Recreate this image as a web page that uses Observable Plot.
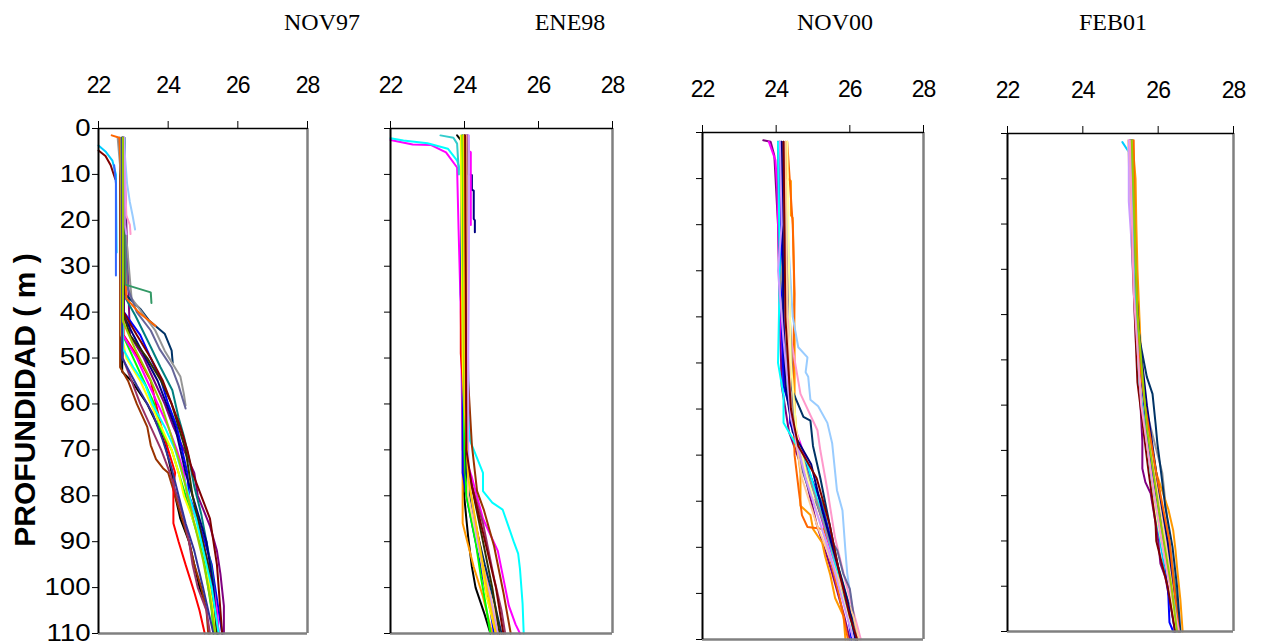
<!DOCTYPE html>
<html><head><meta charset="utf-8">
<script src="https://cdn.jsdelivr.net/npm/d3@7"></script>
<script src="https://cdn.jsdelivr.net/npm/@observablehq/plot@0.6"></script>
<style>
body{margin:0;background:#fff;}
#wrap{position:relative;width:1261px;height:644px;overflow:hidden;background:#fff;}
.panel{position:absolute;top:0;}
.title{position:absolute;top:10px;font-family:"Liberation Serif","Times New Roman",serif;font-size:24px;line-height:24px;transform:translateX(-50%);white-space:nowrap;color:#000;}
</style></head><body><div id="wrap"></div>
<script>
// ---- tick labels / text ----
const depthTicks = [0,10,20,30,40,50,60,70,80,90,100,110];
const tempTicks = [22,24,26,28];
const titles = ["NOV97","ENE98","NOV00","FEB01"];
const yLabel = "PROFUNDIDAD ( m )";

// ---- NOV97 profiles: [depth m, temperature °C] ----
const nov97 = [
 [[2,22.68],[53,22.68],[55,22.95],[60,23.4],[66,23.78],[70,23.95],[75,24.1],[80,24.2],[85,24.35],[90,24.6],[95,24.75],[100,24.9],[103,25.05]],
 [[2,22.62],[52,22.62],[55,22.85],[60,23.1],[65,23.4],[69,23.5],[72,23.65],[74,23.85],[75,24.0],[80,24.2],[85,24.4],[90,24.6],[95,24.75],[100,24.95],[105,25.1],[110,25.15]],
 [[2,22.7],[45,22.72],[50,23.15],[55,23.5],[60,23.65],[65,23.8],[70,24.0],[75,24.2],[78,24.15],[86,24.15],[90,24.3],[95,24.5],[101,24.75],[105,24.9],[110,25.05]],
 [[2,22.72],[45,22.9],[50,23.3],[55,23.6],[60,23.9],[65,24.15],[70,24.45],[75,24.75],[80,24.85],[86.6,25.2],[92,25.4],[97,25.5],[104,25.6],[110,25.6]],
 [[2,22.73],[40,22.73],[45,23.2],[50,23.5],[55,23.8],[60,24.0],[65,24.25],[70,24.4],[75,24.55],[80,24.6],[85,24.85],[90,25.05],[95,25.25],[100,25.35],[105,25.45],[110,25.55]],
 [[2,22.68],[45,22.7],[50,23.0],[55,23.3],[60,23.6],[65,23.75],[70,24.1],[75,24.3],[80,24.5],[85,24.7],[90,24.9],[95,25.05],[100,25.15],[105,25.25],[110,25.3]],
 [[2,22.75],[37,22.78],[40.8,23.06],[47.6,23.5],[52,23.78],[57,24.12],[63,24.3],[67,24.45],[72,24.6],[78,24.75],[84,24.95],[90,25.1],[96,25.25],[102,25.35],[110,25.45]],
 [[2,22.72],[36,22.75],[39.3,23.2],[41.8,23.45],[44.7,23.9],[48.4,24.1],[51,24.13]],
 [[2,22.55],[37,22.95],[44,23.63],[48.4,23.9],[54,24.35],[57.8,24.45],[60.3,24.5]],
 [[2,22.6],[35,22.85],[40,23.1],[44,23.5],[48,23.75],[52,24.1],[56,24.3],[61,24.5]],
 [[1.5,22.38],[2,22.6],[37,22.8],[40,23.15],[43,23.64]],
 [[2,22.7],[34,22.77],[35.7,23.5],[38,23.52]],
 [[3.7,22.0],[5,22.2],[7,22.4],[10,22.5],[27,22.52]],
 [[4.8,22.0],[6,22.2],[8,22.35],[11,22.48]],
 [[8,22.45],[12,22.5],[32,22.5]],
 [[2,22.72],[12,22.82],[16,22.9],[19,22.98],[22,23.05]],
 [[2,22.72],[19,22.8],[21,22.9],[23,22.92]],
 [[2,22.74],[21,22.75],[23,22.8]],
 [[2,22.65],[45,22.66],[50,22.8],[55,23.2],[60,23.5],[65,23.8],[70,24.1],[75,24.3],[80,24.45],[85,24.7],[90,24.95],[95,25.1],[100,25.2],[105,25.3],[110,25.4]],
 [[2,22.7],[45,22.7],[50,23.1],[55,23.4],[60,23.7],[65,24.0],[70,24.25],[75,24.45],[80,24.55],[85,24.8],[90,25.0],[95,25.15],[100,25.3],[105,25.4],[110,25.45]],
 [[2,22.68],[40,22.68],[45,23.0],[50,23.35],[55,23.7],[60,23.95],[65,24.2],[70,24.35],[75,24.5],[80,24.7],[85,24.9],[90,25.1],[95,25.2],[100,25.3],[105,25.35],[110,25.42]],
 [[2,22.7],[40,22.7],[45,22.9],[50,23.4],[55,23.8],[60,24.1],[65,24.3],[70,24.5],[75,24.6],[80,24.7],[85,24.85],[90,25.0],[95,25.15],[100,25.25],[105,25.35],[110,25.4]],
 [[2,22.7],[40,22.72],[45,23.1],[50,23.5],[55,23.85],[60,24.1],[65,24.35],[70,24.55],[75,24.7],[80,24.95],[85,25.2],[90,25.3],[95,25.4],[100,25.45],[105,25.5],[110,25.55]],
 [[2,22.7],[50,22.7],[55,22.95],[60,23.2],[65,23.5],[70,23.8],[75,24.05],[80,24.25],[85,24.45],[90,24.6],[95,24.7],[100,24.85],[105,25.1],[110,25.2]],
 [[2,22.68],[48,22.7],[52,23.0],[56,23.35],[60,23.55],[65,23.9],[70,24.2],[75,24.4],[80,24.6],[85,24.8],[90,24.95],[95,25.1],[100,25.25],[105,25.35],[110,25.45]],
 [[2,22.66],[50,22.68],[56,23.1],[62,23.55],[68,23.85],[74,24.1],[80,24.3],[86,24.5],[92,24.75],[100,25.0],[110,25.3]],
 [[2,22.7],[42,22.7],[48,23.05],[54,23.45],[60,23.8],[66,24.05],[72,24.3],[78,24.5],[86,24.75],[94,25.0],[102,25.2],[110,25.35]]
];
const nov97Colors = ["#000000","#993300","#FF0000","#800080","#0000FF","#00FF00","#008080","#003366","#969696","#666699","#FF6600","#339966","#00CCFF","#800000","#3366FF","#99CCFF","#FF99CC","#CC99FF","#FFFF00","#FF00FF","#000080","#333300","#800000","#993366","#00FFFF","#333399","#99CC00"];

// ---- ENE98 profiles ----
const ene98 = [
 [[2.5,22.0],[3.5,22.6],[3.6,23.1],[5.2,23.5],[8.5,23.8],[22,23.84],[40,23.9],[70,23.95],[76,24.2],[85,24.5],[92,24.9],[98,25.05],[104,25.2],[108,25.38],[110,25.5]],
 [[2.1,22.0],[2.6,22.35],[3.2,23.0],[4.4,23.55],[7,23.8],[12,24.0],[40,24.05],[68,24.15],[75,24.5],[79,24.5],[81.5,24.75],[83,25.03],[86,25.16],[90,25.33],[92.6,25.45],[96,25.5],[103.5,25.57],[110,25.6]],
 [[1.5,23.35],[2,23.7],[3.3,23.8],[10,23.85]],
 [[1.5,24.08],[10,24.1],[10.1,24.2],[13.4,24.2],[13.5,24.25],[19.7,24.25],[20,24.28],[22.6,24.28]],
 [[1.5,24.1],[5,24.12],[5.1,24.17],[21,24.17]],
 [[1.5,23.8],[3,23.95],[40,23.98],[79,23.98],[85,24.05],[89,24.1],[95.5,24.2],[100,24.3],[106,24.55],[110,24.7]],
 [[1.5,23.95],[70,23.95],[86,23.95],[89.8,24.07],[95.5,24.25],[102,24.5],[108.5,24.7],[110,24.75]],
 [[1.5,24.05],[55,24.1],[69,24.2],[79,24.34],[83,24.52],[91,24.8],[101,25.05],[110,25.25]],
 [[1.5,23.93],[36,23.9],[52,23.95],[75,23.95],[82,24.1],[90,24.3],[98,24.5],[105,24.7],[110,24.8]],
 [[1.5,24.0],[40,23.9],[49,23.9],[60,24.0],[75,24.05],[84,24.25],[92,24.45],[100,24.65],[106,24.8],[110,24.9]],
 [[1.5,23.9],[50,23.95],[65,24.0],[78,24.05],[86,24.25],[94,24.45],[102,24.6],[110,24.85]],
 [[1.5,23.95],[70,24.0],[80,24.05],[90,24.3],[98,24.45],[105,24.6],[110,24.7]],
 [[1.5,24.05],[75,24.1],[86,24.5],[98,24.8],[105,25.0],[110,25.1]],
 [[1.5,24.0],[75,24.05],[85,24.25],[95,24.55],[103,24.8],[110,25.0]],
 [[1.5,24.05],[60,24.08],[80,24.1],[92,24.4],[110,24.95]],
 [[1.5,24.0],[72,24.05],[82,24.3],[92,24.55],[100,24.75],[110,24.95]],
 [[1.5,24.12],[30,24.12],[50,24.1],[75,24.1],[90,24.35],[110,24.9]],
 [[1.5,23.97],[60,24.0],[76,24.1],[88,24.35],[100,24.6],[110,24.85]],
 [[1.5,24.02],[70,24.05],[78,24.2],[88,24.5],[100,24.85],[110,25.05]]
];
const ene98Colors = ["#FF00FF","#00FFFF","#33CCCC","#000080","#FF00FF","#000000","#FF9900","#993300","#0000FF","#FF0000","#FFFF00","#00FF00","#993366","#003366","#FFCC99","#333300","#CC99FF","#FFCC00","#800000"];

// ---- NOV00 profiles ----
const nov00 = [
 [[1.7,23.65],[2,23.85],[5,23.95],[20,24.05],[40,24.1],[55,24.15],[65,24.35],[75,24.8],[85,25.1],[95,25.5],[105,25.85],[110,26.0]],
 [[2,23.8],[6,23.98],[12,24.03],[19,24.05],[21.5,24.06],[30,24.08],[34,24.1],[45,24.15],[55,24.25],[65,24.55],[72,24.85],[80,25.1],[90,25.45],[100,25.8],[110,26.1]],
 [[2,24.25],[10,24.3],[10.5,24.4],[18,24.4],[18.5,24.45],[30,24.48],[45,24.5],[60,24.5],[70,24.6],[74,24.66],[81,24.66],[82,24.8],[83,24.93],[86,25.0],[89,25.25],[92,25.33],[96,25.47],[101,25.6],[105,25.83],[110,25.88]],
 [[2,24.3],[8,24.35],[20,24.45],[35,24.5],[55,24.45],[70,24.5],[78,24.62],[83,24.7],[85.6,24.85],[86,25.28],[92,25.45],[100,25.7],[110,25.95]],
 [[2,24.2],[20,24.3],[40,24.45],[46.6,24.6],[48.8,24.85],[52,24.8],[53,24.87],[58,24.93],[59.4,25.14],[63,25.39],[67.4,25.52],[77.6,25.65],[82,25.8],[90.7,25.88],[95.7,25.93],[105,26.1],[110,26.2]],
 [[2,24.1],[30,24.15],[44,24.2],[49,24.22],[56.7,24.3],[61,24.38],[67.4,24.6],[69,24.66],[76,25.0],[81,25.28],[88.5,25.47],[95.7,25.74],[103,26.0],[110,26.15]],
 [[2,24.05],[30,24.1],[50,24.2],[55,24.38],[57.5,24.52],[61.7,24.74],[62.5,24.93],[68,25.0],[75,25.2],[85,25.45],[95,25.7],[105,26.05],[110,26.2]],
 [[2,24.15],[40,24.3],[56.7,24.66],[64.6,25.12],[69,25.2],[78,25.4],[88,25.6],[98,25.9],[110,26.3]],
 [[2,24.2],[20,24.25],[45,24.4],[60,24.45],[70,24.6],[74,24.74],[78.5,24.93],[81,25.12],[87,25.39],[90.7,25.66],[95.7,25.82],[99,26.0],[110,26.2]],
 [[2,24.1],[40,24.15],[55,24.2],[60,24.38],[63,24.38],[70,24.7],[80,25.2],[90,25.55],[100,25.85],[110,26.05]],
 [[2,24.05],[30,24.1],[50,24.05],[57,24.2],[63,24.2],[72,24.85],[82,25.2],[92,25.55],[102,25.9],[110,26.1]],
 [[2,24.15],[25,24.2],[35,24.1],[50,24.3],[65,24.5],[75,24.9],[85,25.3],[95,25.7],[105,26.0],[110,26.2]],
 [[2,24.3],[30,24.35],[50,24.4],[65,24.55],[75,24.85],[85,25.2],[95,25.6],[105,25.95],[110,26.1]],
 [[2,24.25],[40,24.3],[60,24.4],[75,24.7],[85,25.1],[95,25.6],[105,26.1],[110,26.25]],
 [[2,24.15],[40,24.2],[55,24.25],[65,24.45],[72,24.95],[82,25.25],[92,25.6],[102,25.95],[110,26.15]],
 [[2,24.1],[20,24.15],[30,24.05],[45,24.2],[62,24.4],[75,24.8],[90,25.4],[110,26.1]],
 [[2,24.2],[40,24.25],[60,24.4],[68,24.6],[75,25.1],[85,25.45],[95,25.7],[105,26.0],[110,26.2]]
];
const nov00Colors = ["#800080","#FF00FF","#FF9900","#FF6600","#99CCFF","#339966","#003366","#FF99CC","#666699","#0000FF","#00FFFF","#969696","#FFFF99","#FFCC99","#000080","#CC99FF","#800000"];

// ---- FEB01 profiles ----
const feb01 = [
 [[1.9,25.05],[4.1,25.22],[10,25.25],[25,25.3],[40,25.4],[55,25.5],[70,25.7],[85,25.95],[100,26.25],[110,26.45]],
 [[1.5,25.25],[20,25.3],[30,25.38],[45,25.45],[60,25.65],[75,26.11],[90,26.3],[100,26.45],[110,26.55]],
 [[1.5,25.32],[5,25.35],[10,25.4],[20,25.42],[30,25.45],[50,25.55],[65,25.75],[75,25.95],[83,26.27],[87.7,26.4],[92,26.46],[95.7,26.5],[103,26.59],[110,26.65]],
 [[1.5,25.3],[10,25.3],[25,25.38],[40,25.45],[55,25.6],[70,25.85],[85,26.15],[100,26.45],[110,26.55]],
 [[1.5,25.28],[20,25.33],[40,25.42],[46.5,25.53],[53.8,25.7],[57.5,25.85],[64,25.93],[68.5,25.98],[73.7,26.06],[82.5,26.19],[91.3,26.38],[100,26.5],[110,26.59]],
 [[1.5,25.25],[20,25.3],[39,25.4],[55,25.5],[68,25.58],[74,25.58],[77,25.66],[79.5,25.8],[86,25.93],[90,26.0],[95,26.06],[98,26.19],[105,26.35],[110,26.45]],
 [[1.5,25.2],[20,25.28],[40,25.4],[60,25.6],[80,26.0],[95,26.3],[110,26.55]],
 [[1.5,25.22],[15,25.22],[25,25.3],[45,25.4],[65,25.6],[85,26.0],[100,26.3],[110,26.5]],
 [[1.5,25.3],[30,25.35],[50,25.5],[70,25.75],[85,26.05],[95,26.2],[102,26.27],[108,26.3],[110,26.4]],
 [[1.5,25.3],[25,25.35],[45,25.5],[60,25.7],[75,25.95],[90,26.25],[105,26.5],[110,26.55]],
 [[1.5,25.3],[30,25.35],[50,25.45],[70,25.7],[80,25.85],[95,26.2],[110,26.5]],
 [[1.5,25.28],[30,25.33],[55,25.45],[75,25.75],[86,25.93],[90,25.95],[100,26.25],[110,26.45]],
 [[1.5,25.35],[20,25.38],[40,25.45],[50,25.5],[60,25.65],[75,25.95],[90,26.3],[110,26.55]],
 [[1.5,25.28],[30,25.35],[55,25.5],[75,25.8],[90,26.1],[105,26.45],[110,26.5]],
 [[1.5,25.25],[35,25.35],[60,25.55],[80,25.9],[95,26.2],[110,26.55]],
 [[1.5,25.3],[40,25.45],[65,25.7],[85,26.05],[100,26.35],[110,26.5]]
];
const feb01Colors = ["#00CCFF","#969696","#FF9900","#339966","#003366","#800080","#FFCC99","#CC99FF","#0000FF","#000080","#FFFF99","#800000","#FF6600","#33CCCC","#FF99CC","#99CC00"];

// ---- layout (pixels) ----
const layout = [
 {left:0,   width:330, mt:128, mb:11, ml:98, mr:23, tx:322},
 {left:340, width:300, mt:128, mb:11, ml:50, mr:28, tx:570},
 {left:650, width:300, mt:132, mb:5,  ml:52, mr:27, tx:835},
 {left:960, width:301, mt:133, mb:13, ml:47, mr:28, tx:1113}
];
const panels = [[nov97,nov97Colors],[ene98,ene98Colors],[nov00,nov00Colors],[feb01,feb01Colors]];
const wrap = document.getElementById("wrap");

panels.forEach(([profiles, colors], pi) => {
  const L = layout[pi];
  const rows = profiles.flatMap((p, i) => p.map(([d, t]) => ({k: i, d, t, c: colors[i % colors.length]})));
  const marks = [
    Plot.line(rows, {x: "t", y: "d", z: "k", stroke: "c", strokeWidth: 2, strokeLinejoin: "miter"}),
    Plot.ruleX([28], {stroke: "#808080", strokeWidth: 2.5}),
    Plot.ruleY([110], {stroke: "#808080", strokeWidth: 2.5}),
    Plot.ruleY([0], {stroke: "#000", strokeWidth: 1.5}),
    Plot.ruleX([22], {stroke: "#000", strokeWidth: 2}),
    Plot.axisX({anchor: "top", ticks: tempTicks, tickSize: 8, tickPadding: 28, fontSize: 23, label: null, tickFormat: d => String(d)}),
    Plot.axisY({anchor: "left", ticks: depthTicks, tickSize: 6, tickPadding: 2, fontSize: 23, label: null,
                tickFormat: pi === 0 ? (d => String(d)) : (() => "")})
  ];
  if (pi === 0) {
    marks.push(Plot.text([yLabel], {frameAnchor: "left", textAnchor: "middle", lineAnchor: "middle", dx: -73, dy: 19, rotate: -90, fontSize: 30, fontWeight: "bold", fill: "#000"}));
  }
  const svg = Plot.plot({
    width: L.width, height: 644,
    marginTop: L.mt, marginBottom: L.mb, marginLeft: L.ml, marginRight: L.mr,
    x: {domain: [22, 28]},
    y: {domain: [0, 110], reverse: true},
    color: {type: "identity"},
    style: {fontFamily: "'Liberation Sans', Arial, sans-serif", background: "transparent", overflow: "visible", color: "#000"},
    marks
  });
  svg.classList.add("panel");
  svg.style.left = L.left + "px";
  svg.style.position = "absolute";
  svg.style.top = "0px";
  svg.querySelectorAll('g[aria-label="x-axis tick label"] text').forEach(t => t.setAttribute("letter-spacing", "-1"));
  svg.querySelectorAll('g[aria-label="y-axis tick label"] text').forEach(t => {
    const tr = t.getAttribute("transform") || "";
    t.setAttribute("transform", tr + " scale(1.2,1)");
  });
  wrap.appendChild(svg);
  const title = document.createElement("div");
  title.className = "title";
  title.style.left = L.tx + "px";
  title.textContent = titles[pi];
  wrap.appendChild(title);
});
</script>
</body></html>
